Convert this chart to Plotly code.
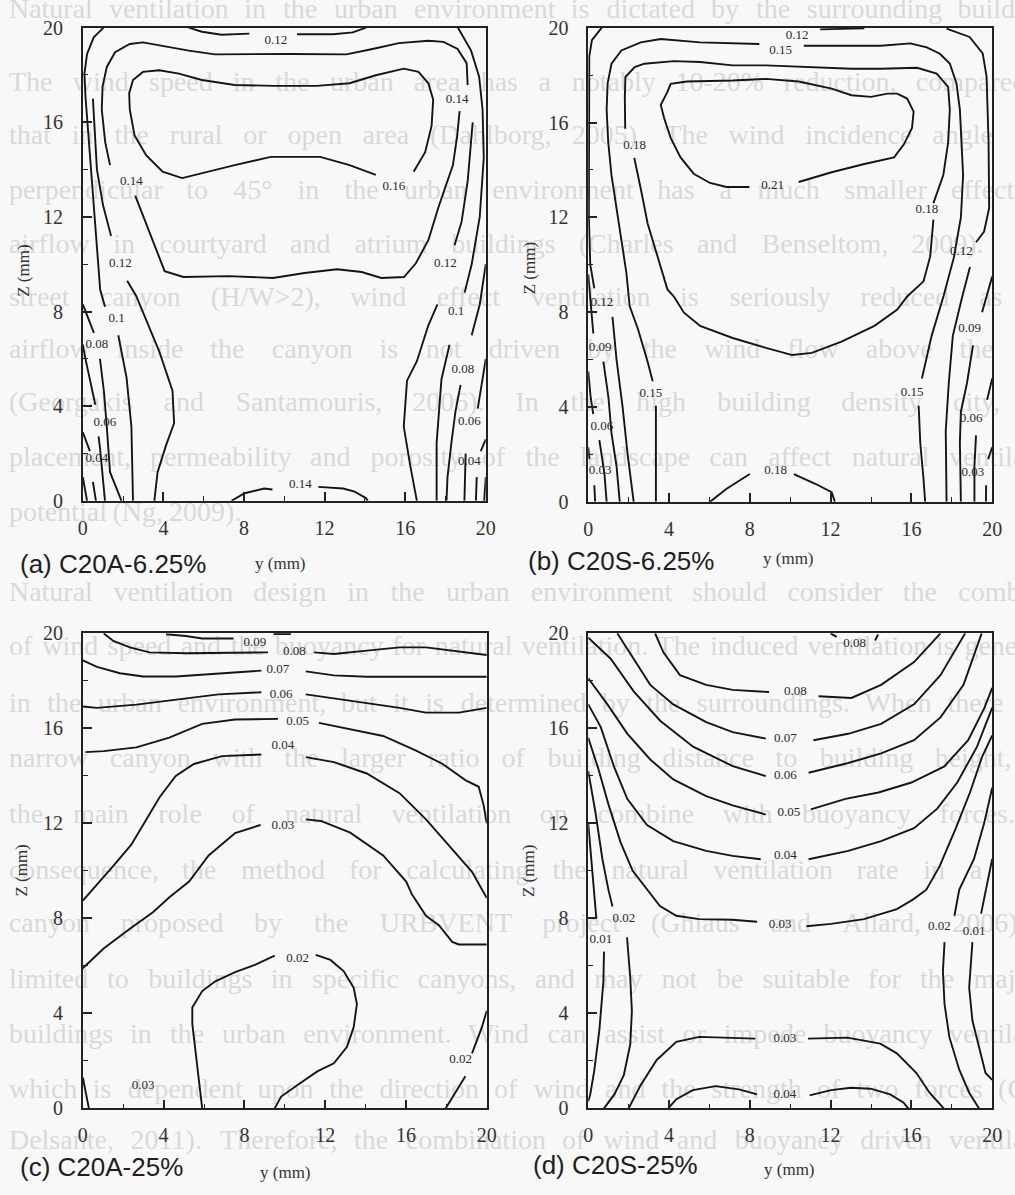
import plotly.graph_objects as go

# ---------------------------------------------------------------------------
# Figure size and page colours
# ---------------------------------------------------------------------------
W, H = 1015, 1195
PAGE = "#f8f8f8"
INK = "#151515"
GHOST = "#d9d9d9"

AXIS_TICKS = [0, 4, 8, 12, 16, 20]
MINOR_TICKS = [2, 6, 10, 14, 18]

# ---------------------------------------------------------------------------
# Faint, justified page text lying behind the four panels
# ---------------------------------------------------------------------------
BG_ROWS = [
    "Natural ventilation in the urban environment is dictated by the surrounding buildings.",
    "The wind speed in the urban area has a notably 10-20% reduction, compared to",
    "that in the rural or open area (Dahlborg, 2005). The wind incidence angle from",
    "perpendicular to 45\u00b0 in the urban environment has a much smaller effect on",
    "airflow in courtyard and atrium buildings (Charles and Benseltom, 2009). In a",
    "street canyon (H/W>2), wind effect ventilation is seriously reduced as the",
    "airflow inside the canyon is not driven by the wind flow above the roof",
    "(Georgakis and Santamouris, 2006). In the high building density city, the",
    "placement, permeability and porosity of the landscape can affect natural ventilation",
    "potential (Ng, 2009).",
    "Natural ventilation design in the urban environment should consider the combined",
    "of wind speed and the buoyancy for natural ventilation. The induced ventilation is generally",
    "in the urban environment, but it is determined by the surroundings. When there is a",
    "narrow canyon with the larger ratio of building distance to building height, the",
    "the main role of natural ventilation on combine with buoyancy forces. In",
    "consequence, the method for calculating the natural ventilation rate in a street",
    "canyon proposed by the URBVENT project (Ghiaus and Allard, 2006) is",
    "limited to buildings in specific canyons, and may not be suitable for the majority",
    "buildings in the urban environment. Wind can assist or impede buoyancy ventilation",
    "which is dependent upon the direction of wind and the strength of two forces (Cook",
    "Delsante, 2011). Therefore, the combination of wind and buoyancy driven ventilation",
]
BG_ROW_Y = [0, 74, 128, 184, 239, 293, 346, 400, 456, 512,
            594, 649, 707, 763, 820, 877, 931, 988, 1044, 1100, 1152]
BG_ROW_JUSTIFY = [True] * 9 + [False] + [True] * 11
BG_SIZE = 28
BG_LEFT = 4
BG_RIGHT = 1078

# Advance widths of the Times-metric serif face (1/1000 em), used to lay out
# each justified row word by word.
SERIF_ADV = {
    " ": 250, "!": 333, "%": 833, "(": 333, ")": 333, ",": 250, "-": 333, ".": 250,
    "/": 278, ":": 278, ";": 278, ">": 564, "\u00b0": 400,
    "A": 722, "B": 667, "C": 667, "D": 722, "E": 611, "F": 556, "G": 722, "H": 722,
    "I": 333, "J": 389, "K": 722, "L": 611, "M": 889, "N": 722, "O": 722, "P": 556,
    "Q": 722, "R": 667, "S": 556, "T": 611, "U": 722, "V": 722, "W": 944, "X": 722,
    "Y": 722, "Z": 611,
    "a": 444, "b": 500, "c": 444, "d": 500, "e": 444, "f": 333, "g": 500, "h": 500,
    "i": 278, "j": 278, "k": 500, "l": 278, "m": 778, "n": 500, "o": 500, "p": 500,
    "q": 500, "r": 333, "s": 389, "t": 278, "u": 500, "v": 500, "w": 722, "x": 500,
    "y": 500, "z": 444,
}


def word_width(word, size):
    return sum(SERIF_ADV.get(ch, 500) for ch in word) * size / 1000.0


# ---------------------------------------------------------------------------
# (a) C20A-6.25%  -- contour polylines (y, Z in mm), None breaks a line
# ---------------------------------------------------------------------------
A_TOP_Y = [5.26, 5.91, 6.89, 8.27, None, 10.63, 12.43, 13.4, 14.06]
A_TOP_Z = [20.0, 19.83, 19.7, 19.75, None, 19.72, 19.72, 19.8, 20.0]

A_016_Y = [14.54, 13.24, 11.78, 9.33, 7.54, 5.91, 4.93, 3.96, 3.14, 2.57, 2.33, 2.30, 2.49, 2.98,
           3.79, 4.77, 5.91, 7.54, 9.50, 11.61, 13.24, 14.54, 15.93, 16.66, 17.15, 17.39, 17.31,
           16.99, 16.42]
A_016_Z = [13.78, 14.19, 14.54, 14.54, 14.19, 13.85, 13.64, 13.91, 14.61, 15.44, 16.54, 17.23, 17.79,
           18.13, 18.20, 18.06, 17.79, 17.58, 17.54, 17.54, 17.65, 17.99, 18.27, 18.13, 17.65, 16.96,
           15.85, 14.74, 13.91]

A_014_Y = [2.6, 3.28, 4.06, 4.99, 7.24, 9.44, 11.0, 12.62, 13.84, 14.82, 15.94, 16.53, 17.16, 17.65,
           17.98, 18.37, 18.58, 18.7, None, 19.1, 19.05, 18.6, 17.9, 17.15, 15.68, 14.38, 13.08, 10.31,
           6.56, 5.26, 3.96, 2.98, 2.33, 1.6, 1.19, 0.98, 0.94, 1.11, 1.35]
A_014_Z = [12.9, 11.45, 9.71, 9.46, 9.50, 9.42, 9.63, 9.79, 9.67, 9.42, 9.46, 10.04, 11.04, 12.41,
           13.22, 14.19, 15.43, 16.47, None, 17.58, 18.5, 19.1, 19.4, 19.45, 19.35, 19.1, 18.87, 18.89,
           18.87, 19.03, 19.24, 19.38, 19.31, 18.96, 18.34, 17.51, 16.54, 15.16, 14.19]

A_012L_Y = [0.5, 0.7, 1.0, 1.4, None, 2.2, 2.65, 3.79, 4.45, 4.53, 4.12, 3.71, 3.55]
A_012L_Z = [17.0, 14.0, 12.5, 11.2, None, 9.3, 8.66, 6.32, 4.66, 3.28, 2.32, 1.21, 0.0]

A_010L_Y = [1.03, 0.54, 0.21, 0.08, 0.13, 0.24, 0.37, 0.5, 0.67, 0.86, 1.1, None, 1.76, 2.17, 2.41, 2.49]
A_010L_Z = [20.0, 19.59, 18.89, 18.06, 17.1, 15.85, 14.47, 12.95, 11.0, 8.93, 8.2, None, 7.0, 5.21, 3.14, 0.0]

A_008L_Y = [0.0, 0.3, 0.55, None, 0.85, 1.05, 1.2, 1.35, 1.92]
A_008L_Z = [8.3, 7.6, 7.1, None, 6.0, 4.6, 3.0, 1.21, 0.0]

A_006L_Y = [0.0, 0.13, 0.62, None, 0.78, 0.86, 1.0, 1.1]
A_006L_Z = [6.6, 6.0, 4.06, None, 2.72, 2.18, 0.9, 0.0]

A_004L_Y = [0.0, 0.13, 0.35, None, 0.5, 0.65]
A_004L_Z = [2.9, 2.59, 2.1, None, 0.8, 0.0]

A_002L_Y = [0.0, 0.21]
A_002L_Z = [1.0, 0.0]

A_010R_Y = [18.62, 19.27, 19.67, 19.84, 19.9, 19.7, 19.3, 18.95, None, 18.2, 17.8, 17.56, 17.56]
A_010R_Z = [20.0, 19.03, 17.93, 16.54, 14.5, 12.0, 10.0, 8.8, None, 6.6, 5.14, 2.46, 0.0]

A_012R_Y = [19.35, 19.1, 18.8, 18.45, None, 17.6, 17.15, 16.58, 16.09, 15.93, 16.25, 16.58]
A_012R_Z = [16.0, 13.5, 11.8, 10.8, None, 8.3, 7.42, 5.9, 5.08, 3.14, 1.49, 0.0]

A_008R_Y = [20.0, 19.7, 19.3, None, 18.75, 18.5, 18.3, 18.1, 18.05]
A_008R_Z = [10.0, 8.3, 7.0, None, 4.9, 3.8, 2.5, 1.0, 0.0]

A_006R_Y = [20.0, 19.75, 19.6, None, 19.0, 18.94]
A_006R_Z = [6.0, 4.6, 3.9, None, 2.0, 0.0]

A_004R_Y = [20.0, 19.75, None, 19.55, 19.51]
A_004R_Z = [2.6, 2.1, None, 1.0, 0.0]

A_002R_Y = [20.0, 19.92]
A_002R_Z = [1.0, 0.0]

A_BOT_Y = [7.38, 8.03, 9.0, 9.41, None, 11.69, 12.92, 13.49, 14.06, 14.14]
A_BOT_Z = [0.0, 0.32, 0.52, 0.48, None, 0.59, 0.52, 0.39, 0.11, 0.0]

A_LAB_TXT = ["0.12", "0.16", "0.14", "0.14", "0.12", "0.12", "0.1", "0.08", "0.06", "0.04",
             "0.1", "0.08", "0.06", "0.04", "0.14"]
A_LAB_Y = [9.58, 15.44, 18.58, 2.41, 1.86, 18.0, 1.68, 0.7, 1.1, 0.7,
           18.53, 18.86, 19.19, 19.19, 10.8]
A_LAB_Z = [19.45, 13.29, 16.96, 13.5, 10.04, 10.0, 7.7, 6.59, 3.28, 1.77,
           7.99, 5.56, 3.35, 1.63, 0.66]

# ---------------------------------------------------------------------------
# (b) C20S-6.25%
# ---------------------------------------------------------------------------
B_012_Y = [0.67, 0.18, 0.05, 0.03, 0.03, 0.1, 0.3, None, 1.2, 1.4, 1.7, 1.95, 2.25]
B_012_Z = [20.0, 19.47, 18.78, 16.0, 12.0, 10.0, 9.0, None, 7.8, 6.0, 4.0, 2.0, 0.0]

B_012T_Y = [11.48, 13.67]
B_012T_Z = [19.93, 19.97]

B_012R_Y = [17.74, 18.88, 19.53, 19.72, 19.82, 19.85, 19.6, 19.2, None, 18.9, 18.5, 18.05, 17.85,
            17.7, 17.72, 17.74]
B_012R_Z = [19.96, 19.61, 18.92, 17.95, 15.2, 12.4, 11.4, 10.95, None, 9.9, 8.6, 7.0, 5.0, 3.0, 1.5, 0.0]

B_015_Y = [3.35, 3.35, None, 3.19, 2.94, 2.46, 2.05, 1.89, 1.64, 1.4, 1.15, 0.99, 0.91, 0.96, 1.15,
           1.64, 2.6, 3.59, 5.54, 8.47, None, 10.67, 14.49, 15.95, 16.76, 17.41, 17.9, 18.23, 18.4,
           18.48, 18.56, 18.45, 18.1, 17.6, 17.0, 16.52, None, 16.36, 16.44, 16.6, 16.68]
B_015_Z = [0.0, 4.05, None, 5.09, 5.91, 7.29, 8.26, 9.65, 11.02, 12.4, 13.78, 15.16, 16.54, 17.65,
           18.48, 19.04, 19.38, 19.52, 19.38, 19.31, None, 19.24, 19.24, 19.34, 19.17, 18.9, 18.49,
           17.66, 16.54, 15.16, 13.78, 12.0, 10.3, 8.7, 7.0, 5.2, None, 4.05, 2.47, 0.96, 0.0]

B_018_Y = [1.83, 1.81, 1.84, 2.3, 2.78, 4.24, 5.54, 7.15, 8.8, 11.24, 13.03, 14.49, 16.28, 17.25,
           17.82, 17.9, 17.82, 17.58, 17.25, 17.09, None, 17.09, 16.93, 16.6, 16.1, 15.79, 15.3,
           14.17, 12.54, 11.07, 10.1, 8.8, 7.15, 5.54, 4.73, 4.24, 3.92, 3.43, 2.94, 2.62, 2.28]
B_018_Z = [15.74, 17.09, 17.92, 18.34, 18.48, 18.59, 18.55, 18.41, 18.41, 18.34, 18.27, 18.27, 18.31,
           18.06, 17.5, 16.54, 15.16, 13.78, 12.95, 12.6, None, 11.9, 10.35, 9.3, 8.9, 8.66, 8.11,
           7.42, 6.76, 6.28, 6.19, 6.49, 6.91, 7.42, 7.99, 8.66, 8.96, 10.35, 11.74, 13.12, 14.5]

B_021_Y = [10.42, 12.05, 13.67, 15.14, 15.63, 16.03, 16.11, 15.79, 15.3, 14.81, 14.0, 13.03, 12.05,
           10.42, 8.8, 7.15, 4.89, 4.08, 3.92, 3.59, 3.76, 4.08, 4.57, 5.22, 6.03, 6.85, 7.98]
B_021_Z = [13.49, 13.9, 14.25, 14.53, 15.08, 15.77, 16.46, 17.01, 17.22, 17.22, 17.08, 17.15, 17.43,
           17.73, 17.84, 17.77, 17.73, 17.63, 17.29, 16.74, 16.18, 15.35, 14.53, 13.84, 13.45, 13.28,
           13.28]

B_009L_Y = [0.0, 0.15, 0.25, None, 0.75, 1.0, 1.15, 1.4, 1.56]
B_009L_Z = [9.6, 8.0, 7.1, None, 5.91, 4.4, 2.9, 1.5, 0.0]

B_006L_Y = [0.0, 0.12, 0.25, None, 0.55, 0.8, 0.91]
B_006L_Z = [5.5, 4.4, 3.7, None, 2.6, 1.2, 0.0]

B_003L_Y = [0.0, 0.06, None, 0.3, 0.34]
B_003L_Z = [2.3, 1.8, None, 0.7, 0.0]

B_009R_Y = [20.0, 19.7, 19.5, None, 19.05, 18.75, 18.45, 18.4, 18.45]
B_009R_Z = [9.5, 8.6, 8.0, None, 6.6, 5.0, 3.8, 2.5, 0.0]

B_006R_Y = [20.0, 19.75, None, 19.2, 19.12, 19.12]
B_006R_Z = [5.2, 4.3, None, 2.8, 1.5, 0.0]

B_003R_Y = [20.0, 19.8, None, 19.7, 19.69]
B_003R_Z = [2.3, 1.8, None, 0.7, 0.0]

B_BOT_Y = [6.03, 6.85, 8.0, None, 10.18, 11.24, 12.05, 12.21]
B_BOT_Z = [0.0, 0.55, 1.17, None, 1.17, 0.76, 0.41, 0.0]

B_LAB_TXT = ["0.12", "0.15", "0.18", "0.21", "0.18", "0.12", "0.12", "0.09", "0.06", "0.03",
             "0.15", "0.15", "0.09", "0.06", "0.03", "0.18"]
B_LAB_Y = [10.34, 9.53, 2.29, 9.13, 16.76, 18.47, 0.67, 0.59, 0.67, 0.59,
           3.1, 16.03, 18.88, 18.96, 19.04, 9.28]
B_LAB_Z = [19.68, 19.03, 15.04, 13.35, 12.3, 10.55, 8.39, 6.51, 3.16, 1.31,
           4.54, 4.6, 7.3, 3.5, 1.24, 1.31]

# ---------------------------------------------------------------------------
# (c) C20A-25%
# ---------------------------------------------------------------------------
C_009_Y = [4.12, 4.76, 5.1, 5.91, 7.46, None, 9.45, 10.3]
C_009_Z = [19.96, 19.92, 19.89, 19.78, 19.78, None, 19.97, 19.97]

C_008_Y = [1.03, 1.51, 2.33, 3.3, 5.1, 9.17, None, 11.45, 12.43, 14.06, 15.68, 16.99, 18.29, 20.0]
C_008_Z = [20.0, 19.68, 19.41, 19.2, 19.16, 19.2, None, 19.2, 19.13, 19.27, 19.41, 19.41, 19.27, 19.09]

C_007_Y = [0.0, 0.7, 1.84, 2.98, 4.61, 6.72, 8.84, None, 11.04, 12.43, 14.06, 16.5, 20.0]
C_007_Z = [18.86, 18.59, 18.32, 18.18, 18.18, 18.32, 18.43, None, 18.4, 18.23, 18.17, 18.17, 18.17]

C_006_Y = [0.0, 0.7, 2.65, 4.61, 6.72, 8.84, None, 11.04, 12.43, 14.06, 15.68, 16.99, 18.62, 20.0]
C_006_Z = [16.92, 16.86, 17.0, 17.2, 17.43, 17.52, None, 17.43, 17.27, 17.06, 16.86, 16.66, 16.66, 16.86]

C_005_Y = [0.13, 1.03, 2.65, 4.28, 5.91, 7.54, 9.66, None, 11.69, 13.24, 14.87, 16.5, 17.8, 18.94,
           19.6, 19.84, 20.0]
C_005_Z = [15.0, 15.04, 15.2, 15.61, 16.19, 16.37, 16.4, None, 16.23, 15.96, 15.68, 15.06, 14.51,
           13.82, 13.54, 12.78, 12.0]

C_004_Y = [0.0, 0.8, 1.5, 2.4, 3.1, 3.8, 4.6, 5.5, 6.89, 8.84, None, 11.04, 12.43, 14.06, 15.68,
           16.99, 18.13, 19.27, 20.0]
C_004_Z = [8.75, 9.5, 10.2, 11.1, 12.1, 13.1, 14.0, 14.5, 14.83, 14.9, None, 14.79, 14.58, 14.1,
           13.27, 12.17, 11.06, 9.96, 8.86]

C_003_Y = [0.0, 1.03, 2.33, 3.47, 4.3, 5.26, 6.23, 7.54, 8.8, None, 11.04, 11.78, 13.24, 14.87,
           16.01, 16.3, 16.99, 17.64, 18.29, 18.62, 20.0]
C_003_Z = [5.9, 6.73, 7.56, 8.26, 8.9, 9.55, 10.65, 11.59, 11.93, None, 12.17, 12.1, 11.61, 10.65,
           9.55, 9.0, 8.11, 7.7, 7.01, 6.9, 6.9]

C_003S_Y = [0.0, 0.2, 0.3]
C_003S_Z = [1.3, 0.4, 0.0]

C_002_Y = [9.5, 9.82, 10.79, 11.61, 12.43, 13.08, 13.41, 13.57, 13.41, 12.92, 12.26, 11.53, None,
           9.5, 8.52, 7.54, 6.56, 5.91, 5.42, 5.42, 5.58, 5.75, 5.91]
C_002_Z = [0.0, 0.5, 1.08, 1.56, 1.9, 2.59, 3.42, 4.39, 5.08, 5.77, 6.25, 6.46, None,
           6.43, 6.04, 5.74, 5.35, 4.94, 4.25, 3.56, 2.48, 1.21, 0.0]

C_002R_Y = [17.96, 18.45, 18.94, None, 19.27, 19.76, 20.0]
C_002R_Z = [0.0, 0.66, 1.35, None, 2.32, 3.42, 4.11]

C_LAB_TXT = ["0.09", "0.08", "0.07", "0.06", "0.05", "0.04", "0.03", "0.02", "0.02", "0.03"]
C_LAB_Y = [8.52, 10.47, 9.66, 9.82, 10.63, 9.9, 9.9, 10.63, 18.7, 2.98]
C_LAB_Z = [19.61, 19.23, 18.47, 17.41, 16.26, 15.26, 11.92, 6.32, 2.04, 0.94]

# ---------------------------------------------------------------------------
# (d) C20S-25%
# ---------------------------------------------------------------------------
D_008T_Y = [12.0, 12.3, None, 14.2, 14.35]
D_008T_Z = [20.0, 19.85, None, 19.7, 19.95]

D_008_Y = [3.31, 3.72, 4.54, 5.84, 7.15, 8.95, None, 11.4, 13.03, 14.5, 16.13, 17.44]
D_008_Z = [20.0, 19.2, 18.24, 17.83, 17.62, 17.53, None, 17.35, 17.28, 17.83, 18.79, 20.0]

D_007_Y = [1.44, 2.25, 3.07, 4.21, 5.84, 7.15, 8.79, None, 11.15, 12.87, 14.5, 16.13, 17.44, 18.66]
D_007_Z = [20.0, 18.93, 17.83, 17.01, 16.26, 15.84, 15.57, None, 15.5, 15.77, 16.19, 17.01, 18.24, 20.0]

D_006_Y = [0.0, 1.11, 2.25, 3.56, 5.19, 7.15, 8.79, None, 10.91, 12.87, 14.5, 16.13, 17.44, 18.58, 19.48]
D_006_Z = [19.82, 18.93, 17.56, 16.32, 15.23, 14.41, 13.99, None, 14.13, 14.54, 14.95, 15.5, 16.46,
           17.83, 20.0]

D_005_Y = [0.0, 0.95, 1.93, 3.07, 4.21, 5.84, 7.15, 8.79, None, 11.02, 12.74, 14.37, 16.0, 17.63,
           18.81, 19.62, 20.0]
D_005_Z = [18.11, 17.01, 15.78, 14.69, 13.85, 13.15, 12.76, 12.37, None, 12.59, 13.03, 13.3, 13.72,
           14.4, 15.5, 16.87, 17.7]

D_004_Y = [0.0, 0.62, 1.27, 1.93, 2.91, 4.21, 5.84, 7.15, 8.54, None, 10.91, 12.87, 14.5, 16.13,
           17.28, 18.27, 19.25, 20.0]
D_004_Z = [17.01, 16.05, 14.4, 13.03, 11.93, 11.25, 10.84, 10.63, 10.49, None, 10.49, 10.84, 11.25,
           11.8, 12.62, 13.72, 15.23, 16.87]

D_003_Y = [0.0, 0.5, 1.0, 1.6, 2.2, 2.9, 3.55, 4.36, 5.5, 7.13, 8.36, None, 10.8, 12.02, 13.65,
           15.28, 16.09, 16.74, 17.4, 18.2, 18.9, 19.5, 20.0]
D_003_Z = [15.6, 14.3, 12.8, 11.2, 10.0, 9.21, 8.52, 8.11, 7.97, 7.94, 7.86, None, 7.67, 7.77, 7.97,
           8.39, 8.8, 9.21, 10.2, 11.8, 13.3, 14.8, 15.7]

D_002L_Y = [0.0, 0.35, 0.7, 1.0, 1.2, None, 1.92, 2.08, 2.16, 2.08, 1.76, 1.3, 0.78]
D_002L_Z = [14.2, 12.5, 10.5, 9.2, 8.5, None, 7.2, 5.5, 4.1, 2.7, 1.4, 0.6, 0.0]

D_001L_Y = [0.0, 0.15, 0.3, 0.4, None, 0.78, 0.75, 0.55, 0.3, 0.1, 0.0]
D_001L_Z = [12.0, 10.5, 9.0, 8.0, None, 6.6, 5.35, 3.3, 1.6, 0.6, 0.3]

D_003B_Y = [2.0, 2.57, 3.39, 4.36, 5.5, 7.13, 8.27, None, 10.88, 12.83, 14.46, 15.28, 16.25, 16.9, 17.6]
D_003B_Z = [0.0, 0.94, 2.04, 2.8, 3.01, 2.98, 2.94, None, 2.94, 2.98, 2.73, 2.32, 1.49, 0.66, 0.0]

D_004B_Y = [3.96, 4.36, 5.18, 6.3, 7.46, 8.36, None, 10.96, 12.02, 13.0, 13.98, 14.95, 15.6, 15.85]
D_004B_Z = [0.0, 0.39, 0.77, 0.94, 0.8, 0.59, None, 0.55, 0.77, 0.87, 0.83, 0.59, 0.25, 0.0]

D_002R_Y = [20.0, 19.6, 19.1, 18.6, 18.37, 18.13, None, 17.64, 17.56, 17.64, 17.88, 18.37, 18.86, 19.35]
D_002R_Z = [13.5, 12.0, 10.5, 9.6, 9.21, 8.11, None, 7.0, 5.77, 4.39, 3.0, 1.63, 0.66, 0.0]

D_001R_Y = [20.0, 19.7, 19.45, None, 19.02, 18.86, 19.02, 19.43, 19.67, 20.0]
D_001R_Z = [10.5, 9.3, 8.2, None, 7.0, 5.08, 3.7, 2.32, 1.49, 1.2]

D_LAB_TXT = ["0.08", "0.08", "0.07", "0.06", "0.05", "0.04", "0.03", "0.02", "0.01", "0.02",
             "0.01", "0.03", "0.04"]
D_LAB_Y = [13.19, 10.25, 9.76, 9.76, 9.93, 9.76, 9.5, 1.76, 0.62, 17.39, 19.1, 9.74, 9.74]
D_LAB_Z = [19.55, 17.53, 15.56, 13.99, 12.46, 10.63, 7.74, 7.97, 7.08, 7.63, 7.42, 2.94, 0.59]

# ---------------------------------------------------------------------------
# Panel layout: axis ids, plot-area rectangles and captions
# ---------------------------------------------------------------------------
PANELS = [
    dict(ax="2", box=(79, 488, 17, 499), caption="(a) C20A-6.25%",
         lines=[(A_TOP_Y, A_TOP_Z), (A_016_Y, A_016_Z), (A_014_Y, A_014_Z),
                (A_012L_Y, A_012L_Z), (A_010L_Y, A_010L_Z), (A_008L_Y, A_008L_Z),
                (A_006L_Y, A_006L_Z), (A_004L_Y, A_004L_Z), (A_002L_Y, A_002L_Z),
                (A_010R_Y, A_010R_Z), (A_012R_Y, A_012R_Z), (A_008R_Y, A_008R_Z),
                (A_006R_Y, A_006R_Z), (A_004R_Y, A_004R_Z), (A_002R_Y, A_002R_Z),
                (A_BOT_Y, A_BOT_Z)],
         labels=(A_LAB_TXT, A_LAB_Y, A_LAB_Z),
         cap_xy=(13, 563), ylab_xy=(280, 563), zlab_xy=(18, 265)),
    dict(ax="3", box=(592, 1002, 17, 500), caption="(b) C20S-6.25%",
         lines=[(B_012_Y, B_012_Z), (B_012T_Y, B_012T_Z), (B_012R_Y, B_012R_Z),
                (B_015_Y, B_015_Z), (B_018_Y, B_018_Z), (B_021_Y, B_021_Z),
                (B_009L_Y, B_009L_Z), (B_006L_Y, B_006L_Z), (B_003L_Y, B_003L_Z),
                (B_009R_Y, B_009R_Z), (B_006R_Y, B_006R_Z), (B_003R_Y, B_003R_Z),
                (B_BOT_Y, B_BOT_Z)],
         labels=(B_LAB_TXT, B_LAB_Y, B_LAB_Z),
         cap_xy=(529, 560), ylab_xy=(795, 558), zlab_xy=(532, 262)),
    dict(ax="4", box=(79, 489, 634, 1118), caption="(c) C20A-25%",
         lines=[(C_009_Y, C_009_Z), (C_008_Y, C_008_Z), (C_007_Y, C_007_Z),
                (C_006_Y, C_006_Z), (C_005_Y, C_005_Z), (C_004_Y, C_004_Z),
                (C_003_Y, C_003_Z), (C_003S_Y, C_003S_Z), (C_002_Y, C_002_Z),
                (C_002R_Y, C_002R_Z)],
         labels=(C_LAB_TXT, C_LAB_Y, C_LAB_Z),
         cap_xy=(13, 1178), ylab_xy=(285, 1183), zlab_xy=(17, 876)),
    dict(ax="5", box=(592, 1002, 634, 1118), caption="(d) C20S-25%",
         lines=[(D_008T_Y, D_008T_Z), (D_008_Y, D_008_Z), (D_007_Y, D_007_Z),
                (D_006_Y, D_006_Z), (D_005_Y, D_005_Z), (D_004_Y, D_004_Z),
                (D_003_Y, D_003_Z), (D_002L_Y, D_002L_Z), (D_001L_Y, D_001L_Z),
                (D_003B_Y, D_003B_Z), (D_004B_Y, D_004B_Z), (D_002R_Y, D_002R_Z),
                (D_001R_Y, D_001R_Z)],
         labels=(D_LAB_TXT, D_LAB_Y, D_LAB_Z),
         cap_xy=(534, 1176), ylab_xy=(796, 1180), zlab_xy=(532, 876)),
]


def paper(x, y):
    return x / W, 1 - y / H


# Lay out every background row word by word (justified rows spread their
# spare width over the inter-word gaps).
bg_x, bg_y, bg_t = [], [], []
for row, ypos, just in zip(BG_ROWS, BG_ROW_Y, BG_ROW_JUSTIFY):
    words = row.split(" ")
    widths = [word_width(w, BG_SIZE) for w in words]
    gap = SERIF_ADV[" "] * BG_SIZE / 1000.0
    if just and len(words) > 1:
        gap = (BG_RIGHT - BG_LEFT - sum(widths)) / (len(words) - 1)
    x = BG_LEFT
    for w, ww in zip(words, widths):
        if x < W - 1:
            bg_x.append(x)
            bg_y.append(ypos)
            bg_t.append(w)
        x += ww + gap

fig = go.Figure()

# The page text sits on the first (full-page) subplot, so the panels drawn
# afterwards lie on top of it.
fig.add_trace(go.Scatter(
    x=bg_x, y=bg_y, text=bg_t, mode="text",
    textposition="middle right", cliponaxis=False, hoverinfo="skip",
    textfont=dict(family="Liberation Serif", size=BG_SIZE, color=GHOST),
    xaxis="x", yaxis="y", showlegend=False))

layout = dict(
    width=W, height=H, margin=dict(l=0, r=0, t=0, b=0),
    paper_bgcolor=PAGE, plot_bgcolor="rgba(0,0,0,0)", showlegend=False,
    xaxis=dict(domain=[0, 1], range=[0, W], visible=False, fixedrange=True),
    yaxis=dict(domain=[0, 1], range=[H, 0], visible=False, fixedrange=True),
    annotations=[],
)

serif = "Liberation Serif"
for p in PANELS:
    ax = p["ax"]
    x0, x1, y0, y1 = p["box"]
    for ys, zs in p["lines"]:
        fig.add_trace(go.Scatter(
            x=ys, y=zs, mode="lines", line=dict(color=INK, width=1.9),
            cliponaxis=False, hoverinfo="skip", showlegend=False,
            xaxis="x" + ax, yaxis="y" + ax))
    txt, ly, lz = p["labels"]
    fig.add_trace(go.Scatter(
        x=ly, y=lz, text=txt, mode="text", cliponaxis=False, hoverinfo="skip",
        textfont=dict(family=serif, size=13, color="#2a2a2a"), showlegend=False,
        xaxis="x" + ax, yaxis="y" + ax))

    common = dict(
        range=[0, 20], showline=True, mirror=True, linecolor="#222", linewidth=1.5,
        ticks="inside", ticklen=9, tickwidth=1.5, tickcolor="#222",
        tickvals=AXIS_TICKS, ticktext=[str(v) for v in AXIS_TICKS],
        minor=dict(ticks="inside", ticklen=5, tickwidth=1.3, tickcolor="#222",
                   tickvals=MINOR_TICKS),
        showgrid=False, zeroline=False, fixedrange=True,
        tickfont=dict(family=serif, size=20, color="#333"),
    )
    layout["xaxis" + ax] = dict(common, domain=[x0 / W, x1 / W], anchor="y" + ax,
                                ticklabelstandoff=8)
    layout["yaxis" + ax] = dict(common, domain=[1 - y1 / H, 1 - y0 / H], anchor="x" + ax,
                                ticklabelstandoff=14)

    cx, cy = paper(*p["cap_xy"])
    layout["annotations"].append(dict(
        text=p["caption"], x=cx, y=cy, xref="paper", yref="paper",
        xanchor="left", yanchor="middle", showarrow=False,
        font=dict(family="Liberation Sans", size=26, color="#1e1e1e")))
    lx, lyy = paper(*p["ylab_xy"])
    layout["annotations"].append(dict(
        text="y (mm)", x=lx, y=lyy, xref="paper", yref="paper",
        xanchor="center", yanchor="middle", showarrow=False,
        font=dict(family=serif, size=17, color="#333")))
    zx, zy = paper(*p["zlab_xy"])
    layout["annotations"].append(dict(
        text="Z (mm)", x=zx, y=zy, xref="paper", yref="paper", textangle=-90,
        xanchor="center", yanchor="middle", showarrow=False,
        font=dict(family=serif, size=17, color="#333")))

fig.update_layout(**layout)
fig.write_html("out.html")
